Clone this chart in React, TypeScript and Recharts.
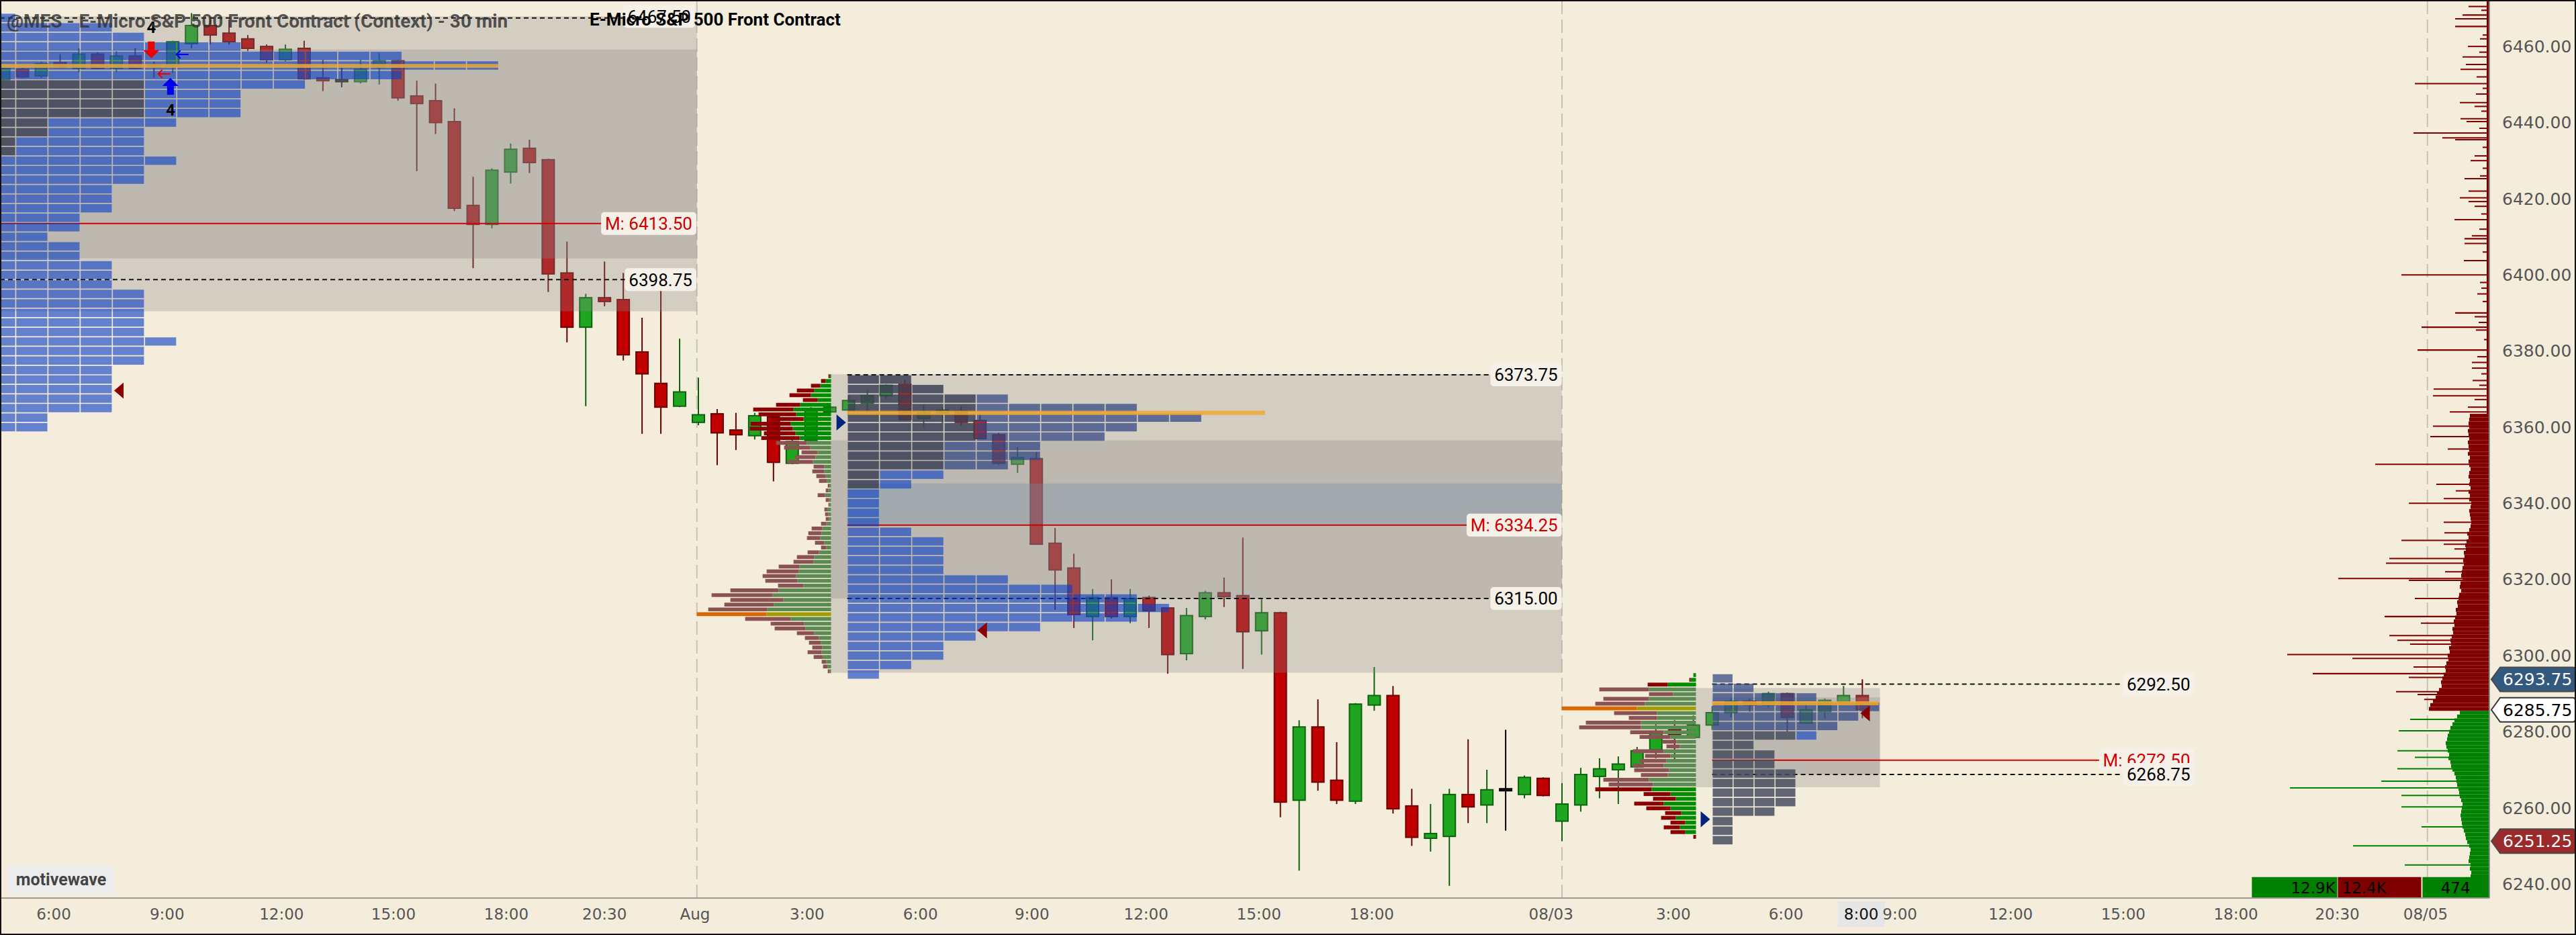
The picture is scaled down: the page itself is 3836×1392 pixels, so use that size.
import React from 'react';
import {
    ComposedChart,
    Bar,
    XAxis,
    YAxis,
    ReferenceArea,
    ReferenceLine,
    ReferenceDot,
} from 'recharts';

const W = 3836;
const H = 1392;
const X_MIN = -0.2;
const X_MAX = 132.4;
const Y_MIN = 6236.3;
const Y_MAX = 6472.2;
const PX_PER_BAR = 27.96; // profile volumes are given in screen px at this bar spacing

// 30 min bars, Jul 31 ~4:30 -> Aug 3 8:00
const opens = [
    6451.25, 6454.0, 6452.25, 6455.75, 6454.25, 6458.0, 6454.25, 6457.5, 6455.0, 6454.75,
    6460.75, 6465.5, 6463.5, 6462.0, 6460.0, 6456.5, 6459.5, 6451.75, 6451.0, 6450.75,
    6454.5, 6456.25, 6447.0, 6445.75, 6440.25, 6418.25, 6413.25, 6427.0, 6433.25, 6430.25,
    6400.5, 6386.25, 6394.0, 6393.5, 6379.75, 6371.5, 6365.5, 6361.25, 6363.5, 6359.25,
    6357.75, 6362.75, 6350.5, 6356.5, 6364.0, 6364.5, 6366.25, 6368.25, 6371.25, 6362.25,
    6363.75, 6364.25, 6361.75, 6358.0, 6350.25, 6351.75, 6329.5, 6323.0, 6310.25, 6315.25,
    6310.25, 6315.25, 6312.5, 6300.5, 6310.25, 6316.5, 6315.75, 6306.5, 6311.25, 6262.0,
    6281.25, 6267.25, 6261.75, 6287.0, 6289.5, 6260.5, 6252.0, 6252.5, 6263.5, 6260.75,
    6264.75, 6263.5, 6267.75, 6256.5, 6260.75, 6268.25, 6270.0, 6270.75, 6275.25, 6280.5,
    6278.5, 6281.75, 6285.0, 6288.0, 6287.0, 6290.0, 6282.25, 6285.25, 6287.75, 6289.5,
];
const highs = [
    6454.5, 6454.5, 6456.0, 6458.0, 6459.5, 6458.5, 6458.75, 6459.5, 6456.0, 6461.5,
    6468.75, 6467.0, 6467.0, 6463.0, 6460.5, 6460.5, 6461.5, 6456.5, 6454.5, 6456.5,
    6458.25, 6456.5, 6451.0, 6450.25, 6443.75, 6425.75, 6428.0, 6434.5, 6435.5, 6430.5,
    6408.75, 6395.0, 6403.5, 6400.5, 6388.75, 6396.0, 6383.25, 6373.0, 6364.75, 6363.75,
    6363.75, 6363.25, 6357.25, 6365.25, 6365.75, 6368.25, 6369.75, 6371.25, 6372.5, 6365.75,
    6365.25, 6365.5, 6363.5, 6358.5, 6354.75, 6353.5, 6333.5, 6326.75, 6317.5, 6320.0,
    6317.5, 6315.75, 6312.5, 6312.5, 6317.0, 6320.5, 6331.0, 6314.75, 6311.5, 6283.0,
    6288.5, 6277.25, 6287.5, 6297.0, 6292.0, 6265.0, 6261.0, 6265.0, 6278.0, 6270.0,
    6280.5, 6268.5, 6268.0, 6266.5, 6270.5, 6273.0, 6273.5, 6276.0, 6282.0, 6283.0,
    6284.25, 6286.75, 6288.75, 6288.75, 6290.5, 6290.25, 6287.75, 6288.75, 6292.0, 6293.75,
];
const lows = [
    6451.0, 6451.75, 6451.75, 6454.25, 6453.25, 6454.0, 6453.25, 6454.0, 6451.75, 6453.0,
    6459.5, 6460.5, 6460.5, 6458.75, 6455.75, 6456.0, 6451.25, 6448.25, 6449.25, 6450.25,
    6450.0, 6445.75, 6427.25, 6437.0, 6416.75, 6401.75, 6412.25, 6424.0, 6426.75, 6395.5,
    6382.25, 6365.5, 6391.75, 6377.5, 6358.25, 6358.25, 6365.25, 6360.5, 6350.0, 6354.0,
    6356.75, 6345.75, 6350.25, 6356.25, 6363.5, 6363.0, 6364.0, 6367.25, 6361.75, 6360.0,
    6361.0, 6360.25, 6356.75, 6350.0, 6348.0, 6329.25, 6312.0, 6307.25, 6304.0, 6309.75,
    6308.5, 6307.25, 6295.25, 6298.75, 6309.5, 6312.75, 6296.5, 6300.25, 6257.5, 6243.5,
    6264.5, 6261.0, 6261.0, 6285.5, 6258.5, 6250.0, 6248.5, 6239.5, 6256.0, 6256.0,
    6254.0, 6262.5, 6263.0, 6251.25, 6259.0, 6262.5, 6261.0, 6270.5, 6273.0, 6272.75,
    6278.25, 6280.5, 6283.75, 6285.25, 6286.25, 6280.0, 6282.0, 6283.5, 6287.25, 6283.5,
];
const closes = [
    6454.25, 6452.0, 6455.5, 6454.5, 6458.0, 6454.25, 6457.5, 6454.25, 6454.75, 6461.25,
    6465.5, 6463.0, 6461.25, 6459.5, 6456.5, 6459.25, 6451.5, 6451.0, 6451.0, 6454.0,
    6456.25, 6446.5, 6445.0, 6440.0, 6417.5, 6413.25, 6427.5, 6433.0, 6429.5, 6400.25,
    6386.25, 6394.0, 6393.0, 6379.0, 6374.0, 6365.25, 6369.25, 6363.25, 6358.5, 6358.0,
    6363.0, 6350.75, 6356.25, 6364.5, 6365.25, 6367.0, 6368.25, 6371.0, 6362.0, 6363.75,
    6364.5, 6361.25, 6357.0, 6350.5, 6352.0, 6329.25, 6322.5, 6310.75, 6315.25, 6310.25,
    6315.0, 6311.75, 6300.25, 6310.5, 6316.5, 6315.5, 6306.25, 6311.25, 6261.5, 6281.25,
    6266.75, 6262.0, 6287.25, 6289.5, 6259.75, 6252.25, 6253.25, 6263.5, 6260.25, 6264.75,
    6264.75, 6268.0, 6263.25, 6261.0, 6268.75, 6270.25, 6271.5, 6275.0, 6280.0, 6279.25,
    6281.75, 6285.0, 6288.0, 6287.0, 6290.0, 6283.75, 6285.75, 6288.25, 6289.5, 6285.75,
];

const timeTicks = [
    2.66, 8.7, 14.8, 20.76, 26.77, 32.0, 36.82, 42.79, 48.83, 54.77, 60.85,
    66.86, 72.87, 82.42, 88.93, 94.93, 101.0, 106.9, 112.9, 118.9, 124.3, 129.0,
];
const timeLabels = [
    '6:00', '9:00', '12:00', '15:00', '18:00', '20:30', 'Aug', '3:00', '6:00', '9:00', '12:00',
    '15:00', '18:00', '08/03', '3:00', '6:00', '9:00', '12:00', '15:00', '18:00', '20:30', '08/05',
];
const priceTicks = [6240, 6260, 6280, 6300, 6320, 6340, 6360, 6380, 6400, 6420, 6440, 6460];

// session boundaries (bar index)
const sessionLines = [36.92, 83.0, 129.1];

// TPO block counts per 2.5 pt row, top row first
const tpoLeftCounts = [
    1, 4, 5, 8, 13, 16, 13, 10, 8, 8, 8, 6, 5, 5, 5, 6, 5, 5, 4, 4, 4, 3, 3, 2,
    3, 3, 4, 4, 4, 5, 5, 5, 5, 5, 6, 5, 5, 4, 4, 4, 4, 4, 2, 2,
];
const tpoMidCounts = [
    2, 3, 5, 9, 11, 9, 8, 6, 6, 5, 3, 2, 1, 1, 1, 1, 2, 3, 3, 3, 3, 5, 7, 9, 10, 9, 6, 4, 3, 3, 2, 1,
];
const tpoRightCounts = [1, 2, 5, 8, 7, 6, 5, 2, 3, 3, 4, 4, 4, 4, 3, 1, 1, 1];

// bid/ask split profile, 1.25 pt rows, top row first
const splitMidGreen = [
    2, 8, 16, 25, 30, 20, 46, 56, 52, 41, 60, 57, 53, 47, 36, 31, 20, 23, 27, 10,
    10, 8, 6, 2, 4, 9, 3, 2, 5, 4, 3, 7, 13, 14, 16, 10, 7, 18, 25, 26,
    47, 48, 52, 50, 41, 78, 87, 71, 85, 95, 96, 60, 40, 38, 25, 18, 15, 13, 14, 12, 7, 5, 2,
];
const splitMidRed = [
    2, 7, 14, 26, 32, 22, 36, 60, 56, 49, 60, 64, 47, 57, 46, 39, 24, 31, 38, 16,
    18, 14, 12, 3, 4, 11, 5, 2, 5, 5, 5, 8, 16, 20, 20, 14, 8, 17, 26, 30,
    31, 48, 50, 48, 38, 72, 91, 79, 74, 88, 104, 68, 50, 46, 26, 21, 18, 15, 21, 14, 7, 7, 3,
];
const splitRightGreen = [
    4, 8, 42, 70, 34, 70, 76, 88, 58, 58, 82, 82, 48, 38, 29, 24, 48, 38, 44, 48,
    40, 42, 70, 64, 66, 38, 30, 48, 38, 22, 30, 16, 24, 16, 0,
];
const splitRightRed = [
    0, 2, 30, 74, 36, 68, 74, 112, 64, 42, 82, 92, 50, 46, 21, 20, 46, 38, 40, 46,
    52, 40, 68, 66, 84, 40, 34, 44, 36, 24, 22, 22, 24, 22, 4,
];

// composite volume at price (right edge), 1 pt rows from 6363 down
const histRed = [
    29, 30, 31, 30, 32, 31, 30, 32, 31, 30, 32, 29, 31, 30, 28, 30, 31, 29,
    30, 28, 31, 29, 30, 27, 28, 30, 29, 28, 27, 28, 30, 33, 31, 34, 36, 35, 38, 37,
    39, 38, 40, 41, 42, 40, 43, 44, 42, 45, 46, 48, 47, 50, 49, 51, 53, 52, 55, 54,
    56, 58, 57, 60, 59, 62, 61, 64, 66, 65, 68, 70, 72, 71, 75, 78, 80, 84, 88, 90,
];
const histGreen = [
    44, 48, 52, 55, 58, 60, 62, 63, 65, 64, 62, 60, 61, 58, 57, 55, 52, 50, 49, 48,
    46, 45, 44, 42, 40, 41, 42, 43, 42, 41, 40, 38, 36, 35, 33, 30, 28, 29, 30, 31,
    28, 29, 27, 28, 27, 26, 27, 28, 27,
];
const histSpikes: [number, number][] = [
    [6470.5, 31], [6469.5, 12], [6468.25, 40], [6467.25, 51], [6465.25, 51], [6463, 10], [6462, 14],
    [6460, 32], [6458.5, 15], [6457.25, 40], [6455.25, 35], [6454, 43], [6452, 19], [6450.25, 111],
    [6449, 10], [6447.5, 20], [6445.25, 44], [6444.25, 22], [6443, 12], [6441, 43], [6440.25, 34],
    [6438.5, 15], [6437.25, 113], [6436, 70], [6435.5, 51], [6433.5, 10], [6431.25, 22], [6430, 28],
    [6428, 10], [6426, 14], [6425.25, 37], [6422, 31], [6420.25, 44], [6419.25, 31], [6418, 22],
    [6416, 12], [6414.5, 52], [6412, 15], [6410.25, 26], [6409.5, 37], [6408.25, 37], [6406, 10],
    [6403.75, 38], [6400, 131], [6398, 14], [6396.5, 12], [6395, 18], [6393, 10], [6390, 51],
    [6389, 22], [6387.5, 16], [6386.25, 101], [6385.5, 20], [6383, 8], [6380.25, 107], [6378.5, 18],
    [6377, 26], [6375.5, 26], [6374, 12], [6372.25, 25], [6371, 15], [6370, 83], [6368.25, 84],
    [6367.25, 22], [6365.25, 32], [6364, 59],
    [6360.25, 84], [6357.5, 88], [6354.25, 62], [6350.25, 170], [6345, 79], [6343.25, 50],
    [6341.25, 68], [6340, 120], [6335, 68], [6332.25, 67], [6330.25, 131], [6329.25, 68], [6328, 52],
    [6325.5, 149], [6324.25, 154], [6322, 66],
    [6320.25, 225], [6319.75, 120], [6315, 111], [6310.25, 156], [6308.5, 102], [6305.25, 149],
    [6304, 137], [6303, 118], [6300.25, 301], [6299.25, 204], [6297, 113], [6295.25, 263],
    [6294.25, 120], [6290.5, 139], [6289.75, 107], [6288.5, 97],
    [6283.25, 118], [6280.25, 135], [6275, 137], [6273.25, 111], [6270.25, 137], [6267, 161],
    [6265.25, 297], [6263.25, 131], [6260.25, 131], [6255, 101], [6250, 203], [6245, 126],
];
const LAST_PRICE = 6285.75;

const candles = opens.map((o, i) => ({
    i,
    open: o,
    high: highs[i],
    low: lows[i],
    close: closes[i],
    range: [lows[i], highs[i]],
}));

const BG = '#f5eddb';
const BLUE = '#0a3fc4';
const SLATE = '#3b4055';
const MEDIUM = '#2f4584';
const GREY_SLATE = '#474c5e';
const SHADE = '#8c8c8c';

const charW: Record<string, number> = { '.': 0.26, ':': 0.24, ' ': 0.25, M: 0.87 };
function textWidth(s: string, size: number) {
    let w = 0;
    for (const ch of s) w += (charW[ch] ?? 0.5615) * size;
    return w;
}

function CandleShape(props: any) {
    const { x, y, width, height, payload } = props;
    const { open, close, high, low } = payload;
    const ratio = high === low ? 0 : height / (high - low);
    const yOf = (v: number) => y + (high - v) * ratio;
    const top = yOf(Math.max(open, close));
    const bot = yOf(Math.min(open, close));
    const flat = close === open;
    const up = close > open;
    const body = flat ? '#1a1a1a' : up ? '#1fa51f' : '#c00000';
    const edge = flat ? '#000' : up ? '#0b620b' : '#6a0000';
    const cx = x + width / 2;
    return (
        <g>
            <line x1={cx} x2={cx} y1={y} y2={y + height} stroke={edge} strokeWidth={2} />
            <rect
                x={x + 1}
                y={bot - top < 3 ? (top + bot) / 2 - 1.5 : top}
                width={width - 2}
                height={Math.max(bot - top, 3)}
                fill={body}
                stroke={edge}
                strokeWidth={2}
            />
        </g>
    );
}

type Zone = { rows: [number, number]; cols: [number, number]; fill: string; opacity: number };
type Tpo = { left: number; colW: number; top: number; rowH: number; counts: number[]; zones: Zone[] };

const tpoLeft: Tpo = {
    left: -1.077, colW: 1.715, top: 6468.75, rowH: 2.5, counts: tpoLeftCounts,
    zones: [
        { rows: [7, 10], cols: [0, 4], fill: SLATE, opacity: 0.85 },
        { rows: [11, 12], cols: [0, 1], fill: SLATE, opacity: 0.85 },
        { rows: [13, 14], cols: [0, 0], fill: SLATE, opacity: 0.85 },
    ],
};
const tpoMid: Tpo = {
    left: 44.93, colW: 1.717, top: 6373.75, rowH: 2.5, counts: tpoMidCounts,
    zones: [
        { rows: [0, 11], cols: [0, 0], fill: SLATE, opacity: 0.85 },
        { rows: [0, 9], cols: [0, 2], fill: SLATE, opacity: 0.85 },
        { rows: [0, 6], cols: [3, 3], fill: SLATE, opacity: 0.85 },
        { rows: [0, 10], cols: [3, 12], fill: MEDIUM, opacity: 0.72 },
    ],
};
const tpoRight: Tpo = {
    left: 91.0, colW: 1.116, top: 6295.25, rowH: 2.5, counts: tpoRightCounts,
    zones: [
        { rows: [6, 17], cols: [0, 3], fill: GREY_SLATE, opacity: 0.85 },
        { rows: [0, 5], cols: [0, 7], fill: MEDIUM, opacity: 0.72 },
    ],
};

function tpoBlocks(p: Tpo, id: string) {
    const out: React.ReactElement[] = [];
    p.counts.forEach((n, j) => {
        for (let k = 0; k < n; k++) {
            const z = p.zones.find(
                (q) => j >= q.rows[0] && j <= q.rows[1] && k >= q.cols[0] && k <= q.cols[1]
            );
            out.push(
                <ReferenceArea
                    key={`${id}-${j}-${k}`}
                    x1={Math.max(X_MIN, p.left + k * p.colW + 0.03)}
                    x2={p.left + (k + 1) * p.colW - 0.03}
                    y1={p.top - (j + 1) * p.rowH + 0.15}
                    y2={p.top - j * p.rowH - 0.15}
                    fill={z ? z.fill : BLUE}
                    fillOpacity={z ? z.opacity : 0.62}
                    stroke="none"
                    ifOverflow="visible"
                    zIndex={30}
                />
            );
        }
    });
    return out;
}

type Split = {
    right: number; top: number; rowH: number; green: number[]; red: number[]; poc: number;
    bright: [number, number][];
};
const splitMid: Split = {
    right: 44.07, top: 6374.0, rowH: 1.25, green: splitMidGreen, red: splitMidRed, poc: 50,
    bright: [[0, 13]],
};
const splitRight: Split = {
    right: 90.14, top: 6295.5, rowH: 1.25, green: splitRightGreen, red: splitRightRed, poc: 7,
    bright: [[0, 2], [24, 34]],
};

function splitBars(p: Split, id: string) {
    const out: React.ReactElement[] = [];
    p.green.forEach((g, j) => {
        const r = p.red[j];
        const isBright = p.bright.some(([a, b]) => j >= a && j <= b);
        const gc = j === p.poc ? '#a39b00' : isBright ? '#008c00' : '#5b8a52';
        const rc = j === p.poc ? '#d96800' : isBright ? '#8b0000' : '#8a5252';
        const y2 = p.top - j * p.rowH - 0.12;
        const y1 = p.top - (j + 1) * p.rowH + 0.12;
        const xg = p.right - g / PX_PER_BAR;
        const xr = xg - r / PX_PER_BAR;
        if (g > 0)
            out.push(
                <ReferenceArea key={`${id}-g${j}`} x1={xg} x2={p.right} y1={y1} y2={y2}
                    fill={gc} fillOpacity={1} stroke="none" ifOverflow="visible" zIndex={32} />
            );
        if (r > 0)
            out.push(
                <ReferenceArea key={`${id}-r${j}`} x1={xr} x2={xg} y1={y1} y2={y2}
                    fill={rc} fillOpacity={1} stroke="none" ifOverflow="visible" zIndex={32} />
            );
    });
    return out;
}

function histogram() {
    const out: React.ReactElement[] = [];
    const rows = [...histRed, ...histGreen];
    rows.forEach((w, k) => {
        const price = 6363 - k;
        out.push(
            <ReferenceArea key={`h${k}`} x1={X_MAX - w / PX_PER_BAR} x2={X_MAX}
                y1={price - 0.5} y2={price + 0.5}
                fill={price > LAST_PRICE ? '#800000' : '#008000'} fillOpacity={1}
                stroke="none" ifOverflow="visible" zIndex={34} />
        );
    });
    histSpikes.forEach(([price, w], k) => {
        out.push(
            <ReferenceArea key={`s${k}`} x1={X_MAX - w / PX_PER_BAR} x2={X_MAX}
                y1={price - 0.18} y2={price + 0.18}
                fill={price > LAST_PRICE ? '#800000' : '#008000'} fillOpacity={1}
                stroke="none" ifOverflow="visible" zIndex={34} />
        );
    });
    out.push(
        <ReferenceArea key="hbase" x1={X_MAX - 4 / PX_PER_BAR} x2={X_MAX} y1={6363.5} y2={Y_MAX}
            fill="#800000" fillOpacity={1} stroke="none" ifOverflow="visible" zIndex={34} />
    );
    return out;
}

const lineTag = (text: string, color: string) => (p: any) => {
    const w = textWidth(text, 26) + 12;
    return (
        <g>
            <rect x={p.cx - w} y={p.cy - 17} width={w} height={34} rx={5} fill="#f5f1e9" />
            <text x={p.cx - 6} y={p.cy} dy="0.36em" textAnchor="end" fontSize={26}
                fontFamily="Roboto" fill={color}>{text}</text>
        </g>
    );
};

const priceTag = (text: string, fill: string, stroke: string, color: string) => (p: any) => {
    const x = p.cx + 3;
    const y = p.cy;
    const d = `M${x},${y} L${x + 13},${y - 18} L${x + 121},${y - 18} Q${x + 125},${y - 18} ${x + 125},${y - 14} L${x + 125},${y + 14} Q${x + 125},${y + 18} ${x + 121},${y + 18} L${x + 13},${y + 18} Z`;
    return (
        <g>
            <path d={d} fill={fill} stroke={stroke} strokeWidth={2} />
            <text x={x + 17} y={y} dy="0.36em" fontSize={25} fontFamily="DejaVu Sans" fill={color}>{text}</text>
        </g>
    );
};

const triLeft = (color: string) => (p: any) => (
    <polygon points={`${p.cx},${p.cy} ${p.cx + 14},${p.cy - 12} ${p.cx + 14},${p.cy + 12}`} fill={color} />
);
const triRight = (color: string) => (p: any) => (
    <polygon points={`${p.cx},${p.cy} ${p.cx - 14},${p.cy - 12} ${p.cx - 14},${p.cy + 12}`} fill={color} />
);
const bigArrow = (color: string, down: boolean) => (p: any) => {
    const s = down ? 1 : -1;
    return (
        <g fill={color}>
            <rect x={p.cx - 5} y={down ? p.cy - 13 : p.cy} width={10} height={13} />
            <polygon points={`${p.cx - 12},${p.cy} ${p.cx + 12},${p.cy} ${p.cx},${p.cy + s * 12}`} />
        </g>
    );
};
const smallArrow = (color: string) => (p: any) => (
    <g stroke={color} strokeWidth={2} fill="none">
        <line x1={p.cx - 9} y1={p.cy} x2={p.cx + 9} y2={p.cy} />
        <polyline points={`${p.cx - 3},${p.cy - 6} ${p.cx - 9},${p.cy} ${p.cx - 3},${p.cy + 6}`} />
    </g>
);
const bigText = (text: string) => (p: any) => (
    <text x={p.cx} y={p.cy} dy="0.36em" textAnchor="middle" fontSize={24} fontWeight={700}
        fontFamily="Roboto" fill="#000">{text}</text>
);
const plainText = (text: string, anchor: 'start' | 'middle' | 'end') => (p: any) => (
    <text x={p.cx} y={p.cy} dy="0.36em" textAnchor={anchor} fontSize={23}
        fontFamily="DejaVu Sans" fill="#000">{text}</text>
);
const cursorLabel = (p: any) => (
    <g>
        <rect x={p.cx - 35} y={p.cy + 5} width={70} height={38} fill="#e6e6e6" />
        <text x={p.cx} y={p.cy + 24} dy="0.36em" textAnchor="middle" fontSize={23}
            fontFamily="DejaVu Sans" fill="#111">8:00</text>
    </g>
);

// dashed value-area lines and M (mid) lines: [price, x1, x2]
const dashLines: [number, number, number][] = [
    [6467.5, X_MIN, 33.42], [6398.75, X_MIN, 33.42],
    [6373.75, 44.93, 79.48], [6315.0, 44.93, 79.48],
    [6292.5, 91.0, 113.2], [6268.75, 91.0, 113.2],
];
const midLines: [number, number, number][] = [
    [6413.5, X_MIN, 32.17], [6334.25, 44.93, 78.2], [6272.5, 91.0, 112.0],
];
const lineLabels: [number, number, string, string][] = [
    [6467.9, 36.82, '6467.50', '#000'],
    [6413.5, 36.89, 'M: 6413.50', '#d00000'],
    [6398.75, 36.89, '6398.75', '#000'],
    [6373.75, 82.99, '6373.75', '#000'],
    [6334.25, 82.99, 'M: 6334.25', '#d00000'],
    [6315.0, 82.99, '6315.00', '#000'],
    [6292.5, 116.68, '6292.50', '#000'],
    [6272.5, 116.68, 'M: 6272.50', '#d00000'],
    [6268.75, 116.68, '6268.75', '#000'],
];

function shade(key: string, x1: number, x2: number, y1: number, y2: number, fill = SHADE, op = 0.31) {
    return (
        <ReferenceArea key={key} x1={x1} x2={x2} y1={y1} y2={y2} fill={fill} fillOpacity={op}
            stroke="none" ifOverflow="visible" zIndex={20} />
    );
}

export default function App() {
    return (
        <div style={{ position: 'absolute', left: 0, top: 0, width: W, height: H, background: BG }}>
            <ComposedChart width={W} height={H} data={candles} margin={{ top: 0, right: 0, bottom: 0, left: 0 }}>
                <XAxis
                    dataKey="i"
                    type="number"
                    domain={[X_MIN, X_MAX]}
                    allowDataOverflow
                    ticks={timeTicks}
                    interval={0}
                    tickFormatter={(v: number, idx: number) => timeLabels[idx]}
                    height={55}
                    tickLine={false}
                    tickMargin={10}
                    axisLine={{ stroke: '#9a9a96', strokeWidth: 2 }}
                    tick={{ fill: '#555', fontSize: 23, fontFamily: 'DejaVu Sans' }}
                />
                <YAxis
                    orientation="right"
                    type="number"
                    domain={[Y_MIN, Y_MAX]}
                    allowDataOverflow
                    ticks={priceTicks}
                    interval={0}
                    tickFormatter={(v: number) => v.toFixed(2)}
                    width={129}
                    tickLine={false}
                    tickMargin={13}
                    axisLine={{ stroke: '#8a8a8a', strokeWidth: 2 }}
                    tick={{ fill: '#555', fontSize: 25, fontFamily: 'DejaVu Sans' }}
                />

                {sessionLines.map((x) => (
                    <ReferenceLine key={`sl${x}`} x={x} stroke="#c8c2b6" strokeWidth={2}
                        strokeDasharray="20 8" ifOverflow="visible" zIndex={5} />
                ))}

                <Bar dataKey="range" barSize={20} isAnimationActive={false} shape={CandleShape} zIndex={10} />

                {shade('l1', X_MIN, 36.92, 6390.4, 6467.9)}
                {shade('l2', X_MIN, 36.92, 6404.3, 6459.2)}
                {shade('m1', 44.07, 83.0, 6295.5, 6373.9)}
                {shade('m2', 44.07, 83.0, 6315.0, 6356.5)}
                {shade('m3', 44.93, 83.0, 6334.5, 6345.2, '#6f8fa8', 0.35)}
                {shade('r1', 90.14, 99.94, 6265.4, 6291.5)}
                {shade('r2', 91.0, 99.94, 6268.75, 6289.0)}

                {dashLines.map(([p, a, b]) => (
                    <ReferenceLine key={`dl${p}`} segment={[{ x: a, y: p }, { x: b, y: p }]}
                        stroke="#111" strokeWidth={2} strokeDasharray="7 5" ifOverflow="visible" zIndex={25} />
                ))}
                {midLines.map(([p, a, b]) => (
                    <ReferenceLine key={`ml${p}`} segment={[{ x: a, y: p }, { x: b, y: p }]}
                        stroke="#d00000" strokeWidth={2} ifOverflow="visible" zIndex={25} />
                ))}

                {tpoBlocks(tpoLeft, 'tl')}
                {tpoBlocks(tpoMid, 'tm')}
                {tpoBlocks(tpoRight, 'tr')}

                <ReferenceArea x1={X_MIN} x2={26.34} y1={6454.4} y2={6455.4} fill="#f0a830"
                    fillOpacity={0.85} stroke="none" ifOverflow="visible" zIndex={31} />
                <ReferenceArea x1={44.93} x2={67.18} y1={6363.2} y2={6364.3} fill="#f0a830"
                    fillOpacity={0.85} stroke="none" ifOverflow="visible" zIndex={31} />
                <ReferenceArea x1={91.0} x2={99.87} y1={6286.95} y2={6288.0} fill="#f0a830"
                    fillOpacity={0.85} stroke="none" ifOverflow="visible" zIndex={31} />

                {splitBars(splitMid, 'sm')}
                {splitBars(splitRight, 'sr')}
                {histogram()}

                <ReferenceArea x1={119.75} x2={124.3} y1={Y_MIN} y2={6241.8} fill="#008000"
                    fillOpacity={1} stroke="none" ifOverflow="visible" zIndex={40} />
                <ReferenceArea x1={124.33} x2={128.77} y1={Y_MIN} y2={6241.8} fill="#800000"
                    fillOpacity={1} stroke="none" ifOverflow="visible" zIndex={40} />
                <ReferenceArea x1={128.84} x2={X_MAX} y1={Y_MIN} y2={6241.8} fill="#008000"
                    fillOpacity={1} stroke="none" ifOverflow="visible" zIndex={40} />

                {lineLabels.map(([p, x, t, c]) => (
                    <ReferenceDot key={`lt${t}`} x={x} y={p} r={1} shape={lineTag(t, c)}
                        ifOverflow="visible" zIndex={50} />
                ))}

                <ReferenceDot x={5.88} y={6369.6} r={1} shape={triLeft('#8b0000')} ifOverflow="visible" zIndex={50} />
                <ReferenceDot x={44.86} y={6361.2} r={1} shape={triRight('#06237d')} ifOverflow="visible" zIndex={50} />
                <ReferenceDot x={51.87} y={6306.6} r={1} shape={triLeft('#8b0000')} ifOverflow="visible" zIndex={50} />
                <ReferenceDot x={90.89} y={6257.0} r={1} shape={triRight('#06237d')} ifOverflow="visible" zIndex={50} />
                <ReferenceDot x={98.9} y={6284.8} r={1} shape={triLeft('#8b0000')} ifOverflow="visible" zIndex={50} />

                <ReferenceDot x={7.86} y={6465.1} r={1} shape={bigText('4')} ifOverflow="visible" zIndex={50} />
                <ReferenceDot x={8.88} y={6443.4} r={1} shape={bigText('4')} ifOverflow="visible" zIndex={50} />
                <ReferenceDot x={7.86} y={6459.0} r={1} shape={bigArrow('#ee0000', true)} ifOverflow="visible" zIndex={50} />
                <ReferenceDot x={8.88} y={6449.6} r={1} shape={bigArrow('#0000ee', false)} ifOverflow="visible" zIndex={50} />
                <ReferenceDot x={9.52} y={6457.9} r={1} shape={smallArrow('#0000ee')} ifOverflow="visible" zIndex={50} />
                <ReferenceDot x={8.55} y={6452.8} r={1} shape={smallArrow('#ee0000')} ifOverflow="visible" zIndex={50} />

                <ReferenceDot x={124.2} y={6239.05} r={1} shape={plainText('12.9K', 'end')} ifOverflow="visible" zIndex={55} />
                <ReferenceDot x={124.55} y={6239.05} r={1} shape={plainText('12.4K', 'start')} ifOverflow="visible" zIndex={55} />
                <ReferenceDot x={130.6} y={6239.05} r={1} shape={plainText('474', 'middle')} ifOverflow="visible" zIndex={55} />

                <ReferenceDot x={X_MAX} y={6293.75} r={1} shape={priceTag('6293.75', '#33597f', '#4a4a4a', '#fff')} ifOverflow="visible" zIndex={60} />
                <ReferenceDot x={X_MAX} y={LAST_PRICE} r={1} shape={priceTag('6285.75', '#ffffff', '#333', '#000')} ifOverflow="visible" zIndex={60} />
                <ReferenceDot x={X_MAX} y={6251.25} r={1} shape={priceTag('6251.25', '#9b2a2a', '#4a4a4a', '#fff')} ifOverflow="visible" zIndex={60} />
                <ReferenceDot x={98.94} y={Y_MIN} r={1} shape={cursorLabel} ifOverflow="visible" zIndex={60} />
            </ComposedChart>

            <div style={{
                position: 'absolute', left: 10, top: 18, fontFamily: 'Roboto', fontWeight: 700,
                fontSize: 28, lineHeight: '28px', color: 'rgba(50,50,50,0.82)', whiteSpace: 'nowrap',
                pointerEvents: 'none',
            }}>
                @MES - E-Micro S&amp;P 500 Front Contract (Context) - 30 min
            </div>
            <div style={{
                position: 'absolute', left: 878, top: 16, fontFamily: 'Roboto', fontWeight: 700,
                fontSize: 26, lineHeight: '26px', color: '#000', whiteSpace: 'nowrap', pointerEvents: 'none',
            }}>
                E-Micro S&amp;P 500 Front Contract
            </div>
            <div style={{
                position: 'absolute', left: 12, top: 1289, width: 158, height: 42, background: '#ececec',
                borderRadius: 3, fontFamily: 'Roboto', fontWeight: 700, fontSize: 25, lineHeight: '42px',
                color: '#444', textAlign: 'center', pointerEvents: 'none',
            }}>
                motivewave
            </div>
            <div style={{
                position: 'absolute', left: 0, top: 0, width: W, height: H, boxSizing: 'border-box',
                border: '2px solid #111', pointerEvents: 'none',
            }} />
        </div>
    );
}
